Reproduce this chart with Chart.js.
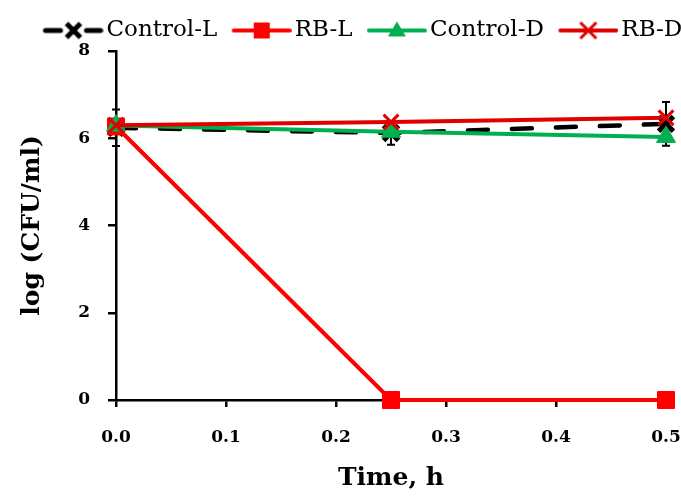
<!DOCTYPE html>
<html>
<head>
<meta charset="utf-8">
<script src="https://cdn.jsdelivr.net/npm/chart.js@4/dist/chart.umd.min.js"></script>
<style>
  html, body { margin: 0; padding: 0; background: #fff; }
  #wrap { width: 681px; height: 496px; }
</style>
</head>
<body>
<div id="wrap"><canvas id="chart" width="681" height="496"></canvas></div>
<script>
// sampling times (h) and log counts per series
const times = [0, 0.25, 0.5];
const seriesNames = ['Control-L', 'RB-L', 'Control-D', 'RB-D'];
const controlL = [6.24, 6.12, 6.33];
const controlLErr = [0.42, 0.27, 0.5];
const rbL = [6.27, 0, 0];
const controlD = [6.29, 6.15, 6.03];
const rbD = [6.3, 6.37, 6.47];
const xTicks = [0, 0.1, 0.2, 0.3, 0.4, 0.5];
const yTicks = [0, 2, 4, 6, 8];

const SERIF = "'DejaVu Serif', serif";
const BLACK = '#000000', RED = '#FF0000', GREEN = '#00B050', DARKRED = '#E00000';

const pts = arr => times.map((t, i) => ({ x: t, y: arr[i] }));

// legend swatch: short line with the series marker on it
function swatch(kind) {
  const c = document.createElement('canvas');
  c.width = 69; c.height = 28;
  const g = c.getContext('2d');
  const y = 14, cx = 39;
  g.lineCap = 'round';
  if (kind === 0) {
    g.strokeStyle = BLACK; g.lineWidth = 5;
    g.beginPath(); g.moveTo(11, y); g.lineTo(26, y); g.moveTo(52, y); g.lineTo(66, y); g.stroke();
    g.lineWidth = 5; g.lineCap = 'butt';
    g.beginPath(); g.moveTo(cx - 7, y - 7); g.lineTo(cx + 7, y + 7); g.moveTo(cx - 7, y + 7); g.lineTo(cx + 7, y - 7); g.stroke();
  } else if (kind === 1) {
    g.strokeStyle = RED; g.lineWidth = 4;
    g.beginPath(); g.moveTo(11, y); g.lineTo(67, y); g.stroke();
    g.fillStyle = RED; g.fillRect(cx - 8, y - 8, 16, 16);
  } else if (kind === 2) {
    g.strokeStyle = GREEN; g.lineWidth = 4;
    g.beginPath(); g.moveTo(11, y); g.lineTo(67, y); g.stroke();
    g.fillStyle = GREEN;
    g.beginPath(); g.moveTo(cx, y - 9); g.lineTo(cx + 9, y + 6); g.lineTo(cx - 9, y + 6); g.closePath(); g.fill();
  } else {
    g.strokeStyle = DARKRED; g.lineWidth = 4;
    g.beginPath(); g.moveTo(11, y); g.lineTo(67, y); g.stroke();
    g.lineWidth = 3; g.lineCap = 'butt';
    g.beginPath(); g.moveTo(cx - 8, y - 8); g.lineTo(cx + 8, y + 8); g.moveTo(cx - 8, y + 8); g.lineTo(cx + 8, y - 8); g.stroke();
  }
  return c;
}
const swatches = seriesNames.map((_, i) => swatch(i));

// vertical error bars with caps, from each dataset's errors array
const errorBars = {
  id: 'errorBars',
  beforeDatasetsDraw(chart) {
    const { ctx, scales: { x, y } } = chart;
    chart.data.datasets.forEach(ds => {
      if (!ds.errors) return;
      ctx.save();
      ctx.strokeStyle = ds.borderColor;
      ctx.lineWidth = 2;
      ds.data.forEach((p, i) => {
        const e = ds.errors[i];
        if (!e) return;
        const px = x.getPixelForValue(p.x);
        const top = y.getPixelForValue(p.y + e), bot = y.getPixelForValue(p.y - e);
        ctx.beginPath();
        ctx.moveTo(px, top); ctx.lineTo(px, bot);
        ctx.moveTo(px - 4, top); ctx.lineTo(px + 4, top);
        ctx.moveTo(px - 4, bot); ctx.lineTo(px + 4, bot);
        ctx.stroke();
      });
      ctx.restore();
    });
  }
};

// legend kept on one row, fixed band height, nudged right and down
const legendLayout = {
  id: 'legendLayout',
  afterInit(chart) {
    const lg = chart.legend;
    const fit = lg.fit;
    lg.fit = function () {
      const mw = this.maxWidth;
      this.maxWidth = 2000;
      fit.call(this);
      this.maxWidth = mw;
      this.width = mw;
      this.height = 51;
    };
  },
  afterLayout(chart) {
    const lg = chart.legend;
    const w = lg.right - lg.left;
    lg.left = 29; lg.right = 29 + w;
    lg.top += 5; lg.bottom += 5;
  }
};

const tickFont = { family: SERIF, size: 17, weight: 'bold' };
const titleFont = { family: SERIF, size: 25, weight: 'bold' };

new Chart(document.getElementById('chart'), {
  type: 'line',
  data: {
    datasets: [
      {
        label: seriesNames[0], data: pts(controlL), errors: controlLErr,
        borderColor: BLACK, backgroundColor: BLACK, borderWidth: 4.5,
        borderDash: [20, 24], borderCapStyle: 'round',
        pointStyle: 'crossRot', pointRadius: 10.5, pointBorderWidth: 5,
        pointBorderColor: BLACK, order: 4, clip: false
      },
      {
        label: seriesNames[1], data: pts(rbL),
        borderColor: RED, backgroundColor: RED, borderWidth: 4,
        pointStyle: 'rect', pointRadius: 12, pointBorderWidth: 1,
        pointBackgroundColor: RED, pointBorderColor: RED, order: 3, clip: false
      },
      {
        label: seriesNames[2], data: pts(controlD),
        borderColor: GREEN, backgroundColor: GREEN, borderWidth: 4,
        pointStyle: 'triangle', pointRadius: 11, pointBorderWidth: 1,
        pointBackgroundColor: GREEN, pointBorderColor: GREEN, order: 2, clip: false
      },
      {
        label: seriesNames[3], data: pts(rbD),
        borderColor: DARKRED, backgroundColor: DARKRED, borderWidth: 4,
        pointStyle: 'crossRot', pointRadius: 10.5, pointBorderWidth: 3,
        pointBorderColor: DARKRED, order: 1, clip: false
      }
    ]
  },
  options: {
    responsive: false,
    animation: false,
    layout: { padding: 0, autoPadding: false },
    plugins: {
      tooltip: { enabled: false },
      legend: {
        position: 'top',
        align: 'start',
        labels: {
          usePointStyle: true, pointStyleWidth: 52, boxHeight: 23,
          padding: 14, color: BLACK, font: { family: SERIF, size: 23 },
          generateLabels: chart => chart.data.datasets.map((ds, i) => ({
            text: ds.label, datasetIndex: i, hidden: false, fontColor: BLACK,
            pointStyle: swatches[i], lineWidth: 0,
            strokeStyle: 'rgba(0,0,0,0)', fillStyle: 'rgba(0,0,0,0)'
          }))
        }
      }
    },
    scales: {
      x: {
        type: 'linear', min: 0, max: 0.5,
        afterBuildTicks: s => { s.ticks = xTicks.map(v => ({ value: v })); },
        afterFit: s => { s.height = 96; s.paddingRight = 15; },
        grid: { display: true, drawOnChartArea: false, drawTicks: true, tickLength: 7, color: BLACK, lineWidth: 2.5 },
        border: { display: true, color: BLACK, width: 2.5 },
        ticks: { color: BLACK, font: tickFont, padding: 20, maxRotation: 0, callback: v => v.toFixed(1) },
        title: { display: true, text: 'Time, h', color: BLACK, font: titleFont, padding: { top: 0, bottom: 3 } }
      },
      y: {
        min: 0, max: 8,
        afterBuildTicks: s => { s.ticks = yTicks.map(v => ({ value: v })); },
        afterFit: s => { s.width = 116; },
        grid: { display: true, drawOnChartArea: false, drawTicks: true, tickLength: 8, color: BLACK, lineWidth: 2.5 },
        border: { display: true, color: BLACK, width: 2.5 },
        ticks: { color: BLACK, font: tickFont, padding: 18 },
        title: { display: true, text: 'log (CFU/ml)', color: BLACK, font: titleFont, padding: { top: 17, bottom: 0 } }
      }
    }
  },
  plugins: [errorBars, legendLayout]
});
</script>
</body>
</html>
